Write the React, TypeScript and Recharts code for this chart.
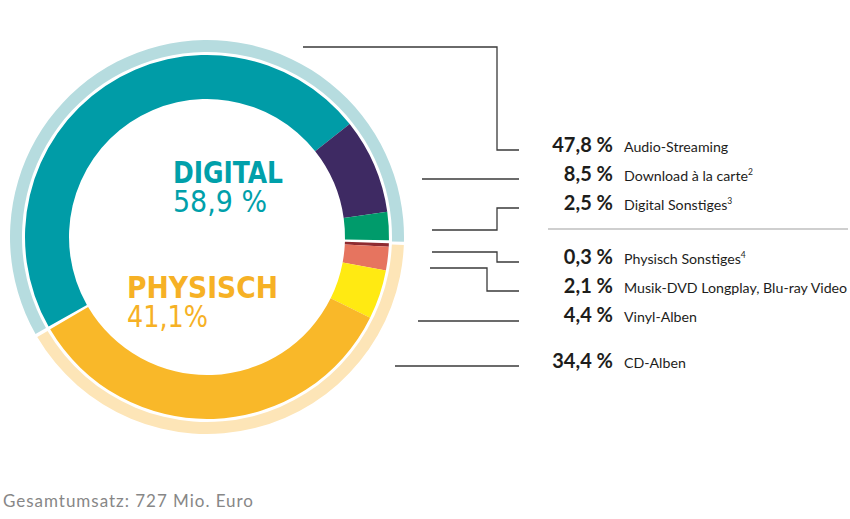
import { PieChart, Pie, Cell } from 'recharts'

// Umsatzanteile 2019 (in %)
const categories = [
  'Audio-Streaming',
  'Download à la carte',
  'Digital Sonstiges',
  'Physisch Sonstiges',
  'Musik-DVD Longplay, Blu-ray Video',
  'Vinyl-Alben',
  'CD-Alben',
]
const footnotes = ['', '2', '3', '4', '', '', '']
const shares = [47.8, 8.5, 2.5, 0.3, 2.1, 4.4, 34.4]
const segmentGroup = [0, 0, 0, 1, 1, 1, 1]

const groupNames = ['DIGITAL', 'PHYSISCH']
const groupShares = [58.9, 41.1]

const totalLabel = 'Gesamtumsatz: 727 Mio. Euro'

const COLORS = ['#009ca7', '#3e2a63', '#009b6b', '#8e2b30', '#e6745f', '#ffea12', '#f9b829']
const RING_COLORS = ['#b6dcdf', '#fde5b7']
const GROUP_TEXT = ['#00a0aa', '#f6b125']

// label rows: leader path + text baseline
const ROWS = [
  { y: 150, path: 'M303,47 H497 V150 H519' },
  { y: 179, path: 'M422,179 H519' },
  { y: 208, path: 'M432,230 H497 V208 H519' },
  { y: 262, path: 'M432,252 H497 V262 H519' },
  { y: 291, path: 'M430,268 H487 V291 H519' },
  { y: 320, path: 'M418,321 H519' },
  { y: 366, path: 'M395,366 H519' },
]

const W = 850
const H = 519
const CX = 207
const CY = 237
const START = 210 // lower left, clockwise
const GAP = 1

const fmt = (v: number) => v.toFixed(1).replace('.', ',')

const items = categories.map((name, i) => ({ name, value: shares[i], group: segmentGroup[i], idx: i }))
const digitalItems = items.filter((d) => d.group === 0)
const physItems = items.filter((d) => d.group === 1)
const sum = (a: { value: number }[]) => a.reduce((s, d) => s + d.value, 0)
const total = sum(items)
const usable = 360 - 2 * GAP
const digitalSpan = (sum(digitalItems) / total) * usable
const physSpan = (sum(physItems) / total) * usable

const dStart = START - GAP / 2
const dEnd = dStart - digitalSpan
const pStart = dEnd - GAP
const pEnd = pStart - physSpan

const ringData = groupNames.map((name, i) => ({ name, value: groupShares[i] }))

export default function App() {
  return (
    <div style={{ position: 'absolute', left: 0, top: 0, width: W, height: H, background: '#fff' }}>
      <PieChart width={W} height={H} margin={{ top: 0, right: 0, bottom: 0, left: 0 }}>
        <Pie
          data={ringData}
          dataKey="value"
          cx={CX}
          cy={CY}
          innerRadius={185}
          outerRadius={197}
          startAngle={START - GAP / 2}
          endAngle={START - GAP / 2 - 360}
          paddingAngle={GAP}
          stroke="none"
          isAnimationActive={false}
        >
          {ringData.map((d, i) => (
            <Cell key={d.name} fill={RING_COLORS[i]} />
          ))}
        </Pie>
        <Pie
          data={digitalItems}
          dataKey="value"
          cx={CX}
          cy={CY}
          innerRadius={138}
          outerRadius={182}
          startAngle={dStart}
          endAngle={dEnd}
          stroke="none"
          isAnimationActive={false}
        >
          {digitalItems.map((d) => (
            <Cell key={d.name} fill={COLORS[d.idx]} />
          ))}
        </Pie>
        <Pie
          data={physItems}
          dataKey="value"
          cx={CX}
          cy={CY}
          innerRadius={138}
          outerRadius={182}
          startAngle={pStart}
          endAngle={pEnd}
          stroke="none"
          isAnimationActive={false}
        >
          {physItems.map((d) => (
            <Cell key={d.name} fill={COLORS[d.idx]} />
          ))}
        </Pie>
      </PieChart>

      <svg
        width={W}
        height={H}
        style={{ position: 'absolute', left: 0, top: 0, pointerEvents: 'none' }}
      >
        {/* center labels, condensed */}
        <g fontFamily="'DejaVu Sans Condensed', 'DejaVu Sans', sans-serif" fontSize={31}>
          <text x={173} y={183} fill={GROUP_TEXT[0]} fontWeight="bold" textLength={110} lengthAdjust="spacingAndGlyphs">
            {groupNames[0]}
          </text>
          <text x={173} y={212} fill={GROUP_TEXT[0]} textLength={94} lengthAdjust="spacingAndGlyphs">
            {fmt(groupShares[0])} %
          </text>
          <text x={127} y={298} fill={GROUP_TEXT[1]} fontWeight="bold" textLength={151} lengthAdjust="spacingAndGlyphs">
            {groupNames[1]}
          </text>
          <text x={127} y={327} fill={GROUP_TEXT[1]} textLength={81} lengthAdjust="spacingAndGlyphs">
            {fmt(groupShares[1])}%
          </text>
        </g>

        {/* leader lines */}
        {ROWS.map((r, i) => (
          <path key={i} d={r.path} fill="none" stroke="#3a3a3a" strokeWidth={1.3} />
        ))}
        <line x1={548} x2={848} y1={229} y2={229} stroke="#cfcfcf" strokeWidth={2} />

        {/* row labels */}
        <g fontFamily="Lato, 'Open Sans', sans-serif">
          {items.map((d, i) => (
            <g key={d.name}>
              <text x={613} y={ROWS[i].y + 1.5} textAnchor="end" fontSize={20} fontWeight={700} fill="#1d1d1b">
                {fmt(d.value)} %
              </text>
              <text x={624} y={ROWS[i].y + 1.5} fontSize={14.2} fill="#1d1d1b">
                {d.name}
                {footnotes[i] && (
                  <tspan fontSize={8.5} dy={-6}>
                    {footnotes[i]}
                  </tspan>
                )}
              </text>
            </g>
          ))}
        </g>

        <text x={3} y={507} fontFamily="Lato, sans-serif" fontSize={17} fill="#878787" textLength={250}>
          {totalLabel}
        </text>
      </svg>
    </div>
  )
}
